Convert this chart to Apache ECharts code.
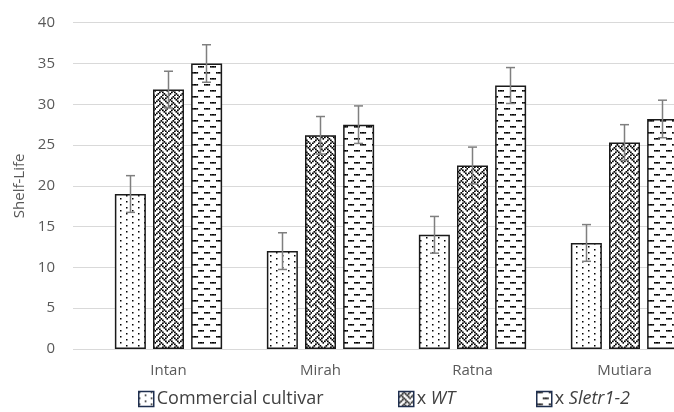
<!DOCTYPE html>
<html>
<head>
<meta charset="utf-8">
<script src="https://cdn.jsdelivr.net/npm/echarts@6/dist/echarts.min.js"></script>
<style>
  html, body { margin: 0; padding: 0; background: #fff; }
  #chart { width: 674px; height: 412px; }
</style>
</head>
<body>
<div id="chart"></div>
<script>
var categories = ['Intan', 'Mirah', 'Ratna', 'Mutiara'];
var commercial = [19.0, 12.0, 14.0, 13.0];
var wt = [31.8, 26.2, 22.5, 25.3];
var sletr = [35.0, 27.5, 32.3, 28.2];
var commercialErr = [2.25, 2.25, 2.25, 2.25];
var wtErr = [2.25, 2.3, 2.25, 2.2];
var sletrErr = [2.3, 2.3, 2.2, 2.3];
var yTicks = [0, 5, 10, 15, 20, 25, 30, 35, 40];

// build an 8x8 hatch bitmap, scaled up 1.5x like the office renderer
function makePattern(rows, dot) {
    var s = 1.5;
    var c = document.createElement('canvas');
    c.width = 12;
    c.height = 12;
    var ctx = c.getContext('2d');
    ctx.fillStyle = '#fff';
    ctx.fillRect(0, 0, 12, 12);
    ctx.fillStyle = '#000';
    for (var y = 0; y < 8; y++) {
        for (var x = 0; x < 8; x++) {
            if (rows[y] & (0x80 >> x)) {
                ctx.fillRect(x * s, y * s, dot, dot);
            }
        }
    }
    return { image: c, repeat: 'repeat' };
}

var dotPattern = makePattern([0x80, 0x00, 0x08, 0x00, 0x80, 0x00, 0x08, 0x00], 1.5);
var weavePattern = makePattern([0x11, 0x2a, 0x44, 0xa2, 0x11, 0x28, 0x44, 0x8a], 1.7);
var dashPattern = makePattern([0xf0, 0x00, 0x00, 0x00, 0x0f, 0x00, 0x00, 0x00], 1.6);

var seriesDefs = [
    { name: 'Commercial cultivar', data: commercial, err: commercialErr, pattern: dotPattern },
    { name: 'x WT', data: wt, err: wtErr, pattern: weavePattern },
    { name: 'x Sletr1-2', data: sletr, err: sletrErr, pattern: dashPattern }
];

var chart = echarts.init(document.getElementById('chart'));

var series = [];
seriesDefs.forEach(function (d, i) {
    series.push({
        name: d.name,
        type: 'bar',
        xAxisIndex: 1,
        yAxisIndex: 1,
        barWidth: 31,
        barGap: '23%',
        data: d.data,
        itemStyle: {
            color: d.pattern,
            borderColor: '#1a1a1a',
            borderWidth: 1.5
        },
        emphasis: { disabled: true }
    });
});

// error bars, drawn on top of each bar
seriesDefs.forEach(function (d, i) {
    var errData = d.data.map(function (v, k) {
        return [k, v - d.err[k], v + d.err[k]];
    });
    series.push({
        type: 'custom',
        xAxisIndex: 1,
        yAxisIndex: 1,
        silent: true,
        z: 5,
        data: errData,
        renderItem: function (params, api) {
            var off = (i - 1) * 38;
            var lo = api.coord([api.value(0), api.value(1)]);
            var hi = api.coord([api.value(0), api.value(2)]);
            var x = lo[0] + off;
            var style = { stroke: '#7f7f7f', lineWidth: 1.5 };
            return {
                type: 'group',
                children: [
                    { type: 'line', shape: { x1: x, y1: lo[1], x2: x, y2: hi[1] }, style: style },
                    { type: 'line', shape: { x1: x - 4.5, y1: hi[1], x2: x + 4.5, y2: hi[1] }, style: style },
                    { type: 'line', shape: { x1: x - 4.5, y1: lo[1], x2: x + 4.5, y2: lo[1] }, style: style }
                ]
            };
        }
    });
});

var textColor = '#595959';
var font = '"Open Sans", sans-serif';

function legendAt(left, name) {
    return {
        left: left,
        top: 385,
        data: [name],
        icon: 'rect',
        itemWidth: 15,
        itemHeight: 15,
        itemGap: 0,
        selectedMode: false,
        itemStyle: { borderColor: '#1f2f4f', borderWidth: 1.5 },
        textStyle: {
            color: '#404040',
            fontFamily: font,
            fontSize: 18,
            padding: [0, 0, 0, -2],
            rich: {
                i: { fontStyle: 'italic', fontFamily: font, fontSize: 18, color: '#404040' }
            }
        },
        formatter: function (n) {
            if (n.indexOf('x ') === 0) {
                return 'x {i|' + n.slice(2) + '}';
            }
            return n;
        }
    };
}

var option = {
    animation: false,
    backgroundColor: '#fff',
    textStyle: { fontFamily: font },
    grid: [
        { left: 73, top: 22.7, width: 640, height: 326.3, outerBoundsMode: 'none' },
        { left: 92.5, top: 22.7, width: 608, height: 326.3, outerBoundsMode: 'none' }
    ],
    legend: [
        legendAt(133, 'Commercial cultivar'),
        legendAt(393, 'x WT'),
        legendAt(531, 'x Sletr1-2')
    ],
    xAxis: [
        {
            gridIndex: 0,
            type: 'category',
            data: categories,
            show: false
        },
        {
            gridIndex: 1,
            type: 'category',
            data: categories,
            axisLine: { show: false },
            axisTick: { show: false },
            axisLabel: {
                color: textColor,
                fontFamily: font,
                fontSize: 15,
                margin: 14
            }
        }
    ],
    yAxis: [
        {
            gridIndex: 0,
            type: 'value',
            min: yTicks[0],
            max: yTicks[yTicks.length - 1],
            interval: 5,
            name: 'Shelf-Life',
            nameLocation: 'middle',
            nameRotate: 90,
            nameGap: 46,
            nameTextStyle: { color: textColor, fontFamily: font, fontSize: 15 },
            axisLine: { show: false },
            axisTick: { show: false },
            axisLabel: {
                color: textColor,
                fontFamily: font,
                fontSize: 15,
                margin: 18
            },
            splitLine: { lineStyle: { color: '#d9d9d9', width: 1 } }
        },
        {
            gridIndex: 1,
            type: 'value',
            min: yTicks[0],
            max: yTicks[yTicks.length - 1],
            interval: 5,
            show: false,
            splitLine: { show: false }
        }
    ],
    series: series
};

chart.setOption(option);
</script>
</body>
</html>
